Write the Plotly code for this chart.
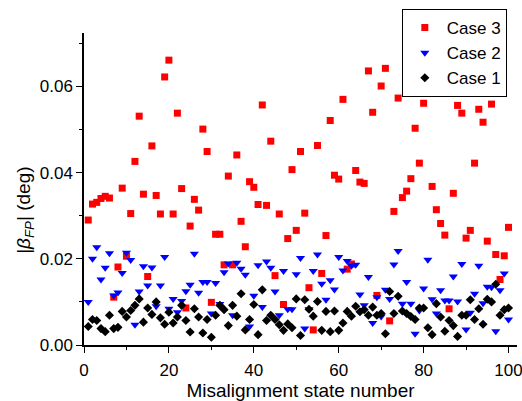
import plotly.graph_objects as go

idx = list(range(1, 101))

case3 = [0.0290, 0.0327, 0.0331, 0.0340, 0.0345, 0.0341, 0.0111, 0.0181, 0.0364, 0.0206,
         0.0305, 0.0426, 0.0531, 0.0350, 0.0159, 0.0462, 0.0347, 0.0304, 0.0622, 0.0661,
         0.0304, 0.0538, 0.0363, 0.0086, 0.0276, 0.0338, 0.0313, 0.0501, 0.0449, 0.0099,
         0.0257, 0.0257, 0.0186, 0.0392, 0.0186, 0.0441, 0.0287, 0.0228, 0.0379, 0.0366,
         0.0326, 0.0557, 0.0324, 0.0473, 0.0161, 0.0304, 0.0094, 0.0247, 0.0407, 0.0266,
         0.0449, 0.0306, 0.0133, 0.0035, 0.0463, 0.0166, 0.0254, 0.0521, 0.0394, 0.0385,
         0.0570, 0.0176, 0.0188, 0.0405, 0.0378, 0.0375, 0.0636, 0.0540, 0.0115, 0.0601,
         0.0642, 0.0056, 0.0310, 0.0573, 0.0342, 0.0357, 0.0386, 0.0503, 0.0422, 0.0561,
         0.0665, 0.0368, 0.0314, 0.0282, 0.0255, 0.0084, 0.0352, 0.0556, 0.0538, 0.0248,
         0.0266, 0.0422, 0.0547, 0.0517, 0.0241, 0.0559, 0.0210, 0.0152, 0.0207, 0.0273]

case2 = [0.0100, 0.0200, 0.0227, 0.0152, 0.0179, 0.0213, 0.0115, 0.0122, 0.0167, 0.0214,
         0.0197, 0.0047, 0.0124, 0.0183, 0.0138, 0.0180, 0.0090, 0.0138, 0.0204, 0.0084,
         0.0107, 0.0076, 0.0102, 0.0125, 0.0140, 0.0212, 0.0121, 0.0146, 0.0146, 0.0073,
         0.0144, 0.0095, 0.0169, 0.0189, 0.0069, 0.0191, 0.0177, 0.0163, 0.0043, 0.0114,
         0.0185, 0.0088, 0.0194, 0.0179, 0.0124, 0.0069, 0.0172, 0.0083, 0.0083, 0.0164,
         0.0202, 0.0038, 0.0083, 0.0172, 0.0210, 0.0142, 0.0105, 0.0150, 0.0129, 0.0204,
         0.0173, 0.0195, 0.0184, 0.0186, 0.0117, 0.0092, 0.0158, 0.0051, 0.0111, 0.0066,
         0.0128, 0.0107, 0.0187, 0.0218, 0.0096, 0.0146, 0.0096, 0.0026, 0.0080, 0.0131,
         0.0198, 0.0106, 0.0073, 0.0127, 0.0103, 0.0103, 0.0159, 0.0101, 0.0188, 0.0036,
         0.0075, 0.0119, 0.0184, 0.0097, 0.0135, 0.0134, 0.0032, 0.0127, 0.0166, 0.0059]

case1 = [0.0043, 0.0059, 0.0057, 0.0038, 0.0031, 0.0069, 0.0038, 0.0041, 0.0078, 0.0065,
         0.0080, 0.0092, 0.0107, 0.0053, 0.0086, 0.0071, 0.0100, 0.0063, 0.0048, 0.0076,
         0.0051, 0.0065, 0.0092, 0.0057, 0.0030, 0.0084, 0.0065, 0.0028, 0.0059, 0.0018,
         0.0069, 0.0092, 0.0082, 0.0045, 0.0092, 0.0067, 0.0119, 0.0035, 0.0059, 0.0094,
         0.0024, 0.0128, 0.0057, 0.0069, 0.0059, 0.0047, 0.0034, 0.0049, 0.0040, 0.0107,
         0.0022, 0.0105, 0.0083, 0.0067, 0.0101, 0.0034, 0.0078, 0.0031, 0.0079, 0.0034,
         0.0051, 0.0078, 0.0067, 0.0090, 0.0077, 0.0082, 0.0069, 0.0088, 0.0069, 0.0073,
         0.0026, 0.0124, 0.0073, 0.0113, 0.0079, 0.0073, 0.0066, 0.0059, 0.0086, 0.0086,
         0.0040, 0.0024, 0.0096, 0.0065, 0.0032, 0.0057, 0.0045, 0.0020, 0.0069, 0.0069,
         0.0105, 0.0059, 0.0084, 0.0048, 0.0106, 0.0100, 0.0141, 0.0069, 0.0082, 0.0086]

FONT = "Arial, Liberation Sans, sans-serif"

fig = go.Figure()
fig.add_trace(go.Scatter(x=idx, y=case3, mode="markers", name="Case 3",
                         marker=dict(symbol="square", size=7, color="#ff0000")))
fig.add_trace(go.Scatter(x=idx, y=case2, mode="markers", name="Case 2",
                         marker=dict(symbol="triangle-down", size=8, color="#0000ff")))
fig.add_trace(go.Scatter(x=idx, y=case1, mode="markers", name="Case 1",
                         marker=dict(symbol="diamond", size=7, color="#000000")))

axis_common = dict(showline=True, linecolor="black", linewidth=1.5, ticks="outside",
                   ticklen=6, tickwidth=1.2, tickcolor="black", showgrid=False,
                   zeroline=False, mirror=False, ticklabeloverflow="allow",
                   automargin=False,
                   tickfont=dict(family=FONT, size=17, color="black"))

fig.update_xaxes(range=[0, 102], dtick=20, tick0=0, ticklabelstandoff=3,
                 minor=dict(ticks="outside", ticklen=3, dtick=10, tick0=0, tickcolor="black"),
                 title=dict(text="Misalignment state number",
                            font=dict(family=FONT, size=19, color="black"), standoff=12),
                 **axis_common)
fig.update_yaxes(range=[0, 0.0724], dtick=0.02, tick0=0, tickformat=".2f",
                 minor=dict(ticks="outside", ticklen=3, dtick=0.01, tick0=0, tickcolor="black"),
                 **axis_common)

fig.add_annotation(text="|<i>β</i><sub><i>FP</i></sub>| (deg)", textangle=-90,
                   xref="paper", yref="paper", x=0, y=0.43, xanchor="center", yanchor="middle",
                   xshift=-59, showarrow=False,
                   font=dict(family=FONT, size=19, color="black"))

fig.update_layout(
    width=522, height=401,
    margin=dict(l=84, r=5, t=33, b=56),
    plot_bgcolor="white", paper_bgcolor="white",
    showlegend=True,
    legend=dict(x=0.734, y=1.077, xanchor="left", yanchor="top",
                bordercolor="black", borderwidth=1, bgcolor="white",
                font=dict(family=FONT, size=17, color="black"),
                tracegroupgap=0, itemsizing="trace", itemwidth=34),
)

fig.write_html("out.html")
